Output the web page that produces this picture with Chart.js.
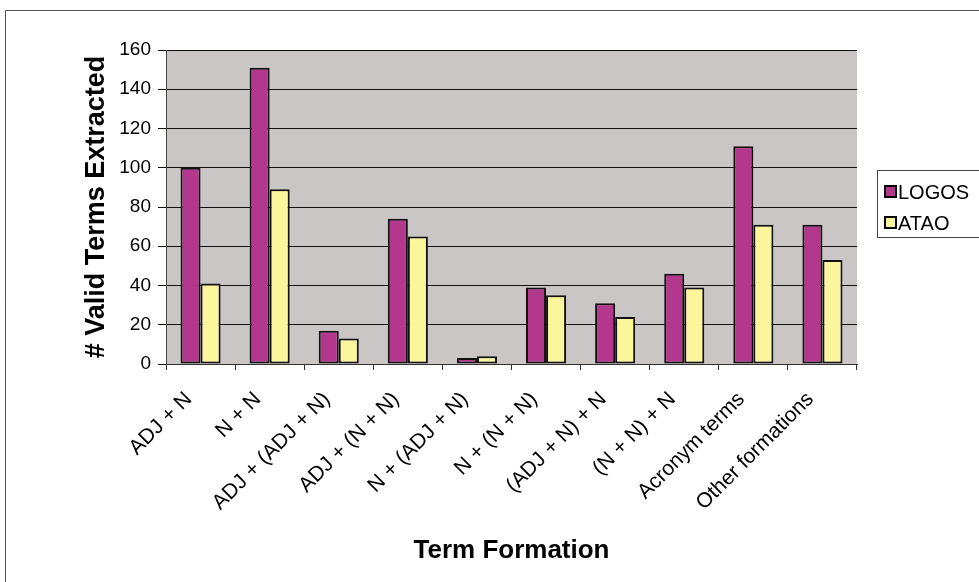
<!doctype html>
<html lang="en">
  <head>
    <meta charset="UTF-8" />
    <script src="https://cdn.jsdelivr.net/npm/chart.js@4.4.0/dist/chart.umd.min.js"></script>
    <style>
      body { margin: 0; background: #fff; }
      #wrap { width: 979px; height: 582px; }
    </style>
  </head>
  <body>
    <div id="wrap"><canvas id="myChart" width="979" height="582"></canvas></div>

    <script>
      // values
      const categories = ['ADJ + N', 'N + N', 'ADJ + (ADJ + N)', 'ADJ + (N + N)', 'N + (ADJ + N)',
        'N + (N + N)', '(ADJ + N) + N', '(N + N) + N', 'Acronym terms', 'Other formations'];
      const logos = [100, 151, 17, 74, 3, 39, 31, 46, 111, 71];
      const atao = [41, 89, 13, 65, 4, 35, 24, 39, 71, 53];
      const yTicks = [0, 20, 40, 60, 80, 100, 120, 140, 160];

      const font = 'Liberation Sans, Arial, sans-serif';

      // grey plot background + outer frame
      const backdrop = {
        id: 'backdrop',
        beforeDraw(chart) {
          const { ctx, chartArea: a } = chart;
          ctx.save();
          ctx.fillStyle = '#cac6c5';
          ctx.fillRect(a.left, a.top, a.right - a.left, a.bottom - a.top);
          ctx.strokeStyle = '#555';
          ctx.lineWidth = 1;
          ctx.beginPath();
          ctx.moveTo(5.5, 582);
          ctx.lineTo(5.5, 10.5);
          ctx.lineTo(979, 10.5);
          ctx.stroke();
          ctx.restore();
        }
      };

      // legend drawn like the old spreadsheet one
      const boxLegend = {
        id: 'boxLegend',
        afterDraw(chart) {
          const { ctx } = chart;
          ctx.save();
          ctx.strokeStyle = '#444';
          ctx.lineWidth = 1;
          ctx.strokeRect(877.5, 170.5, 110, 67);
          ctx.font = '20px ' + font;
          ctx.textBaseline = 'middle';
          chart.data.datasets.forEach((ds, i) => {
            const y = 192 + i * 31;
            ctx.fillStyle = ds.backgroundColor;
            ctx.fillRect(885, y - 6, 11, 11);
            ctx.strokeStyle = '#000';
            ctx.lineWidth = 2;
            ctx.strokeRect(885, y - 6, 11, 11);
            ctx.fillStyle = '#000';
            ctx.fillText(ds.label, 898, y + 1);
          });
          ctx.restore();
        }
      };

      const ctx = document.getElementById('myChart').getContext('2d');
      new Chart(ctx, {
        type: 'bar',
        data: {
          labels: categories,
          datasets: [
            {
              label: 'LOGOS',
              data: logos,
              backgroundColor: '#b4378e',
              borderColor: '#111',
              borderWidth: 2,
              borderSkipped: false
            },
            {
              label: 'ATAO',
              data: atao,
              backgroundColor: '#fbf59c',
              borderColor: '#111',
              borderWidth: 2,
              borderSkipped: false
            }
          ]
        },
        options: {
          responsive: false,
          animation: false,
          devicePixelRatio: 1,
          layout: { padding: { left: 80, right: 122, top: 50, bottom: 16 } },
          datasets: { bar: { categoryPercentage: 0.58, barPercentage: 1.0 } },
          plugins: {
            legend: { display: false },
            tooltip: { enabled: false }
          },
          scales: {
            x: {
              afterFit(scale) { scale.height = 202; },
              grid: {
                offset: true,
                drawOnChartArea: false,
                drawTicks: true,
                tickLength: 6,
                color: '#333'
              },
              border: { color: '#333', width: 1 },
              ticks: {
                color: '#000',
                font: { family: font, size: 21 },
                maxRotation: 45,
                minRotation: 45,
                padding: 17,
                labelOffset: -12
              },
              title: {
                display: true,
                text: 'Term Formation',
                color: '#000',
                font: { family: font, size: 26, weight: 'bold' },
                padding: { top: 0, bottom: 0 }
              }
            },
            y: {
              min: 0,
              max: 160,
              afterFit(scale) { scale.width = 86; },
              afterBuildTicks(scale) { scale.ticks = yTicks.map(v => ({ value: v })); },
              grid: { color: '#111', lineWidth: 1, tickLength: 8 },
              border: { color: '#444', width: 1 },
              ticks: {
                color: '#000',
                font: { family: font, size: 19 },
                padding: 7
              },
              title: {
                display: true,
                text: '# Valid Terms Extracted',
                color: '#000',
                font: { family: font, size: 27, weight: 'bold' },
                padding: { top: 0, bottom: 0 }
              }
            }
          }
        },
        plugins: [backdrop, boxLegend]
      });
    </script>
  </body>
</html>
